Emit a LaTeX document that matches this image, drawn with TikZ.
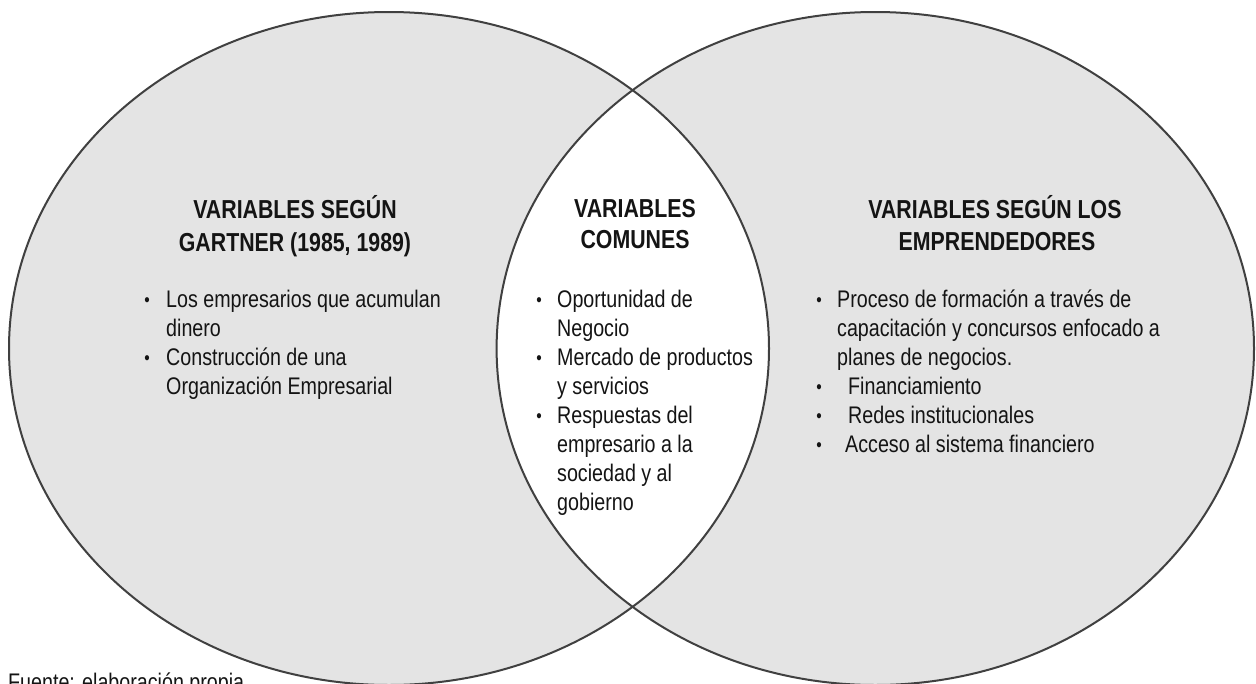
\documentclass[tikz,border=0pt]{standalone}
\usepackage{fontspec}
\setmainfont{Liberation Sans}[FakeStretch=0.82]
\definecolor{fillgray}{RGB}{228,228,228}
\definecolor{linegray}{RGB}{64,64,64}
\definecolor{txt}{RGB}{20,20,20}
\tikzset{
  circ/.style={line width=2pt, draw=linegray},
  bodytext/.style={anchor=base west, inner sep=0pt, text=txt, font=\fontsize{24}{29}\selectfont},
  titletext/.style={anchor=base, inner sep=0pt, text=txt, font=\bfseries\fontsize{26}{33}\selectfont},
  bul/.style={anchor=base, inner sep=0pt, text=txt, font=\fontsize{19}{29}\selectfont}
}
\begin{document}
\begin{tikzpicture}[x=1pt,y=-1pt]
\useasboundingbox (0,0) rectangle (1256,683);
\fill[white] (0,0) rectangle (1256,683);
% ellipses
\fill[fillgray] (389,348.5) ellipse [x radius=380, y radius=336.5];
\fill[fillgray] (875.3,348.5) ellipse [x radius=378.7, y radius=336.5];
\begin{scope}
  \clip (389,348.5) ellipse [x radius=380, y radius=336.5];
  \fill[white] (875.3,348.5) ellipse [x radius=378.7, y radius=336.5];
\end{scope}
\draw[circ] (389,348.5) ellipse [x radius=380, y radius=336.5];
\draw[circ] (875.3,348.5) ellipse [x radius=378.7, y radius=336.5];

% left set
\node[titletext] (lt1) at (295,218) {VARIABLES SEGÚN};
\node[titletext] (lt2) at (295,251) {GARTNER (1985, 1989)};
\node[bul] (lb1) at (147,306) {\textbullet};
\node[bodytext] (l1) at (166,307) {Los empresarios que acumulan};
\node[bodytext] (l2) at (166,336) {dinero};
\node[bul] (lb2) at (147,364) {\textbullet};
\node[bodytext] (l3) at (166,365) {Construcción de una};
\node[bodytext] (l4) at (166,394) {Organización Empresarial};

% common set
\node[titletext] (ct1) at (635,217) {VARIABLES};
\node[titletext] (ct2) at (635,248) {COMUNES};
\node[bul] (cb1) at (539,306) {\textbullet};
\node[bodytext] (c1) at (557,307) {Oportunidad de};
\node[bodytext] (c2) at (557,336) {Negocio};
\node[bul] (cb2) at (539,364) {\textbullet};
\node[bodytext] (c3) at (557,365) {Mercado de productos};
\node[bodytext] (c4) at (557,394) {y servicios};
\node[bul] (cb3) at (539,422) {\textbullet};
\node[bodytext] (c5) at (557,423) {Respuestas del};
\node[bodytext] (c6) at (557,452) {empresario a la};
\node[bodytext] (c7) at (557,481) {sociedad y al};
\node[bodytext] (c8) at (557,510) {gobierno};

% right set
\node[titletext] (rt1) at (995,218) {VARIABLES SEGÚN LOS};
\node[titletext] (rt2) at (997,250) {EMPRENDEDORES};
\node[bul] (rb1) at (819,306) {\textbullet};
\node[bodytext] (r1) at (837,307) {Proceso de formación a través de};
\node[bodytext] (r2) at (837,336) {capacitación y concursos enfocado a};
\node[bodytext] (r3) at (837,365) {planes de negocios.};
\node[bul] (rb2) at (819,393) {\textbullet};
\node[bodytext] (r4) at (848,394) {Financiamiento};
\node[bul] (rb3) at (819,422) {\textbullet};
\node[bodytext] (r5) at (848,423) {Redes institucionales};
\node[bul] (rb4) at (819,451) {\textbullet};
\node[bodytext] (r6) at (845,452) {Acceso al sistema financiero};

% source
\node[bodytext] (src) at (8,690) {Fuente: elaboración propia};
\end{tikzpicture}
\end{document}
